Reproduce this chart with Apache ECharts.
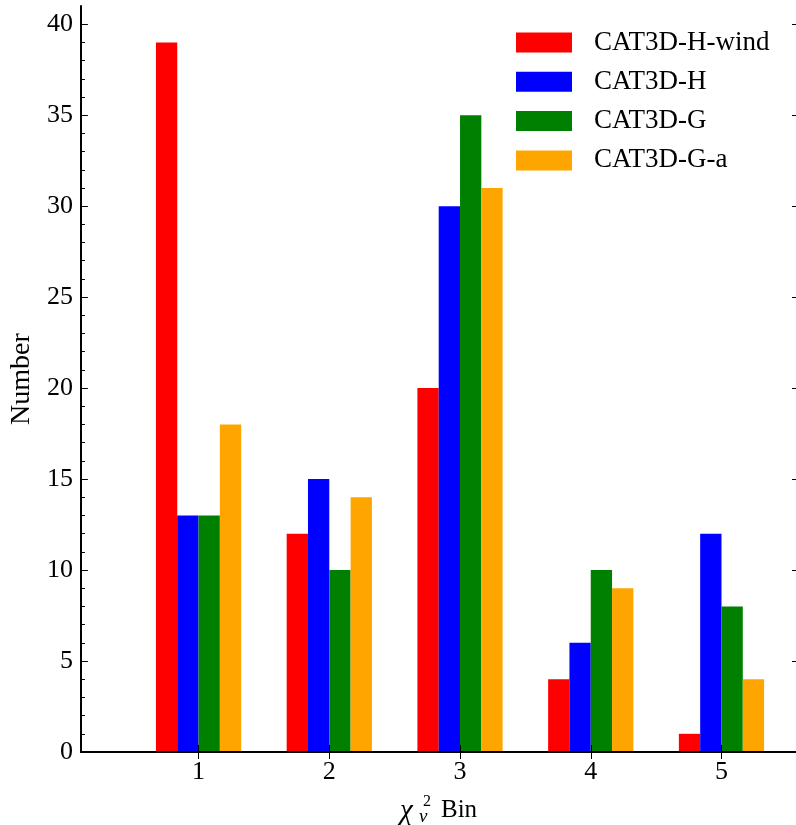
<!DOCTYPE html>
<html>
<head>
<meta charset="utf-8">
<script src="https://cdn.jsdelivr.net/npm/echarts@6/dist/echarts.min.js"></script>
<style>
html,body{margin:0;padding:0;background:#fff;}
#chart{width:796px;height:825px;}
</style>
</head>
<body>
<div id="chart"></div>
<script>
const categories = [1, 2, 3, 4, 5];
const seriesNames = ['CAT3D-H-wind', 'CAT3D-H', 'CAT3D-G', 'CAT3D-G-a'];
const windValues = [39, 12, 20, 4, 1];
const hValues = [13, 15, 30, 6, 12];
const gValues = [13, 10, 35, 10, 8];
const gaValues = [18, 14, 31, 9, 4];
const yMajorTicks = [0, 5, 10, 15, 20, 25, 30, 35, 40];
const yMinorTicks = [1,2,3,4,6,7,8,9,11,12,13,14,16,17,18,19,21,22,23,24,26,27,28,29,31,32,33,34,36,37,38,39];

const colors = ['#ff0000', '#0000ff', '#008000', '#ffa500'];
const allValues = [windValues, hValues, gValues, gaValues];
const BAR_W = 0.163;
const FONT = '"Liberation Serif", "Times New Roman", serif';

const chart = echarts.init(document.getElementById('chart'), null, {renderer: 'canvas'});

function renderBar(params, api) {
  const x = api.value(0);
  const y = api.value(1);
  const off = (params.seriesIndex - 2) * BAR_W;
  const p0 = api.coord([x + off, y]);
  const p1 = api.coord([x + off + BAR_W, 0]);
  return {
    type: 'rect',
    shape: {x: p0[0], y: p0[1], width: p1[0] - p0[0], height: p1[1] - p0[1]},
    style: {fill: colors[params.seriesIndex]}
  };
}

const series = seriesNames.map((name, i) => ({
  name: name,
  type: 'custom',
  renderItem: renderBar,
  encode: {x: 0, y: 1},
  itemStyle: {color: colors[i]},
  xAxisIndex: 0,
  yAxisIndex: 0,
  z: 2,
  data: categories.map((c, j) => [c, allValues[i][j]])
}));

const option = {
  animation: false,
  backgroundColor: '#fff',
  grid: {left: 78.5, right: 0, top: 6, bottom: 73, containLabel: false},
  legend: {
    orient: 'vertical',
    left: 516,
    top: 29,
    padding: 0,
    icon: 'rect',
    itemWidth: 56,
    itemHeight: 20,
    itemGap: 12.3,
    data: seriesNames,
    textStyle: {fontFamily: FONT, fontSize: 27, color: '#000', padding: [0, 0, 0, 17]}
  },
  xAxis: [
    {
      type: 'value', position: 'bottom', min: 0.1, max: 5.57, z: 5,
      axisLine: {show: true, lineStyle: {color: '#000', width: 2}},
      axisTick: {show: true, inside: true, length: 7, customValues: categories, lineStyle: {color: '#000', width: 1}},
      axisLabel: {show: true, customValues: categories, fontFamily: FONT, fontSize: 26, color: '#000', margin: 7},
      splitLine: {show: false}
    },
    {
      type: 'value', position: 'top', min: 0.1, max: 5.57, z: 5,
      axisLine: {show: true, lineStyle: {color: '#000', width: 2}},
      axisTick: {show: true, inside: true, length: 7, customValues: categories, lineStyle: {color: '#000', width: 1}},
      axisLabel: {show: false},
      splitLine: {show: false}
    }
  ],
  yAxis: [
    {
      type: 'value', position: 'left', min: 0, max: 41, z: 5,
      name: 'Number', nameLocation: 'middle', nameRotate: 90, nameGap: 44,
      nameTextStyle: {fontFamily: FONT, fontSize: 28, color: '#000'},
      axisLine: {show: true, lineStyle: {color: '#000', width: 2}},
      axisTick: {show: true, inside: true, length: 7, customValues: yMajorTicks, lineStyle: {color: '#000', width: 1}},
      axisLabel: {show: true, customValues: yMajorTicks, fontFamily: FONT, fontSize: 26, color: '#000', margin: 8},
      splitLine: {show: false}
    },
    {
      type: 'value', position: 'left', min: 0, max: 41, z: 5,
      axisLine: {show: false},
      axisTick: {show: true, inside: true, length: 4, customValues: yMinorTicks, lineStyle: {color: '#000', width: 1}},
      axisLabel: {show: false},
      splitLine: {show: false}
    },
    {
      type: 'value', position: 'right', min: 0, max: 41, z: 5,
      axisLine: {show: false},
      axisTick: {show: true, inside: true, length: 4, customValues: yMajorTicks, lineStyle: {color: '#000', width: 1}},
      axisLabel: {show: false},
      splitLine: {show: false}
    }
  ],
  graphic: [
    {type: 'text', x: 400, y: 811, style: {text: 'χ', font: 'italic 29px ' + FONT, fill: '#000', align: 'left', verticalAlign: 'middle'}},
    {type: 'text', x: 423, y: 801.5, style: {text: '2', font: '16px ' + FONT, fill: '#000', align: 'left', verticalAlign: 'middle'}},
    {type: 'text', x: 419, y: 817, style: {text: 'ν', font: 'italic 19px ' + FONT, fill: '#000', align: 'left', verticalAlign: 'middle'}},
    {type: 'text', x: 441, y: 810, style: {text: 'Bin', font: '25px ' + FONT, fill: '#000', align: 'left', verticalAlign: 'middle'}}
  ],
  series: series
};

chart.setOption(option);
</script>
</body>
</html>
